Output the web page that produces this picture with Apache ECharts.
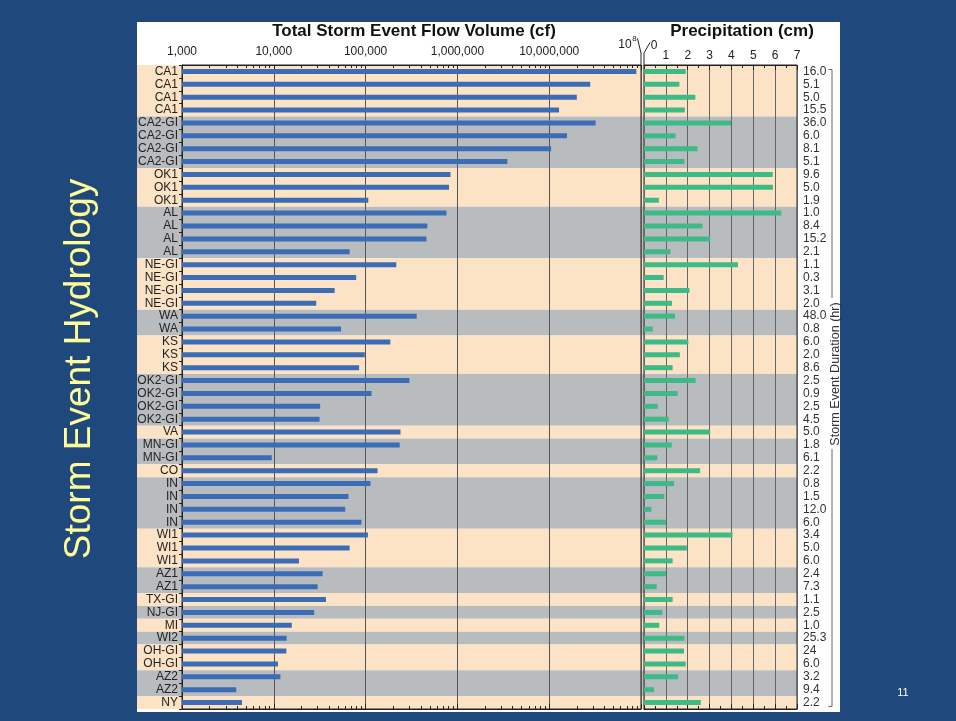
<!DOCTYPE html>
<html><head><meta charset="utf-8">
<script src="https://cdn.jsdelivr.net/npm/echarts@6/dist/echarts.min.js"></script>
<style>html,body{margin:0;padding:0;background:#1f497d}#c{width:956px;height:721px}</style>
</head><body><div id="c"></div>
<script>
// ---------- data ----------
const sites = ['CA1','CA1','CA1','CA1','CA2-GI','CA2-GI','CA2-GI','CA2-GI','OK1','OK1','OK1',
  'AL','AL','AL','AL','NE-GI','NE-GI','NE-GI','NE-GI','WA','WA','KS','KS','KS',
  'OK2-GI','OK2-GI','OK2-GI','OK2-GI','VA','MN-GI','MN-GI','CO','IN','IN','IN','IN',
  'WI1','WI1','WI1','AZ1','AZ1','TX-GI','NJ-GI','MI','WI2','OH-GI','OH-GI','AZ2','AZ2','NY'];
const flowVolume = [89000000,28000000,20000000,12800000,32000000,15600000,10500000,3500000,840000,810000,107000,
  760000,470000,460000,67000,216000,79000,46000,29000,360000,54000,186000,98000,85000,
  300000,116000,32000,31500,240000,235000,9500,135000,113000,65000,60000,90000,
  106000,67000,18800,34000,30000,37000,27500,15700,13800,13700,11100,11800,3900,4500];
const precipitation = [1.91,1.62,2.35,1.87,3.98,1.44,2.45,1.85,5.89,5.90,0.68,
  6.28,2.68,3.03,1.21,4.30,0.90,2.08,1.28,1.42,0.40,2.03,1.64,1.31,
  2.36,1.54,0.63,1.13,3.03,1.27,0.61,2.57,1.38,0.93,0.34,1.01,
  4.05,1.96,1.31,1.01,0.58,1.31,0.84,0.70,1.85,1.83,1.91,1.56,0.46,2.60];
const durations = ['16.0','5.1','5.0','15.5','36.0','6.0','8.1','5.1','9.6','5.0','1.9',
  '1.0','8.4','15.2','2.1','1.1','0.3','3.1','2.0','48.0','0.8','6.0','2.0','8.6',
  '2.5','0.9','2.5','4.5','5.0','1.8','6.1','2.2','0.8','1.5','12.0','6.0',
  '3.4','5.0','6.0','2.4','7.3','1.1','2.5','1.0','25.3','24','6.0','3.2','9.4','2.2'];
const flowRange = [1000, 100000000];
const precipRange = [0, 7];

// ---------- derived ----------
const bandPalette = ['#fde3c6', '#b9bcbf'];
// one band per site group: [x, firstRow, lastRow, colourIndex]
const siteGroups = [];
sites.forEach((s, i) => {
  if (i === 0 || s !== sites[i - 1]) {
    siteGroups.push([0, i, i, siteGroups.length % 2]);
  } else {
    siteGroups[siteGroups.length - 1][2] = i;
  }
});
const minorLog = [];
for (let d = 3; d < 8; d++) for (let k = 2; k <= 9; k++) minorLog.push(Math.log10(k) + d);

const FONT = "'Liberation Sans', Arial, sans-serif";
const TOP = 65, H = 644;
const L0 = 182, W0 = 459, L1 = 644, W1 = 153;
const ink = '#222';

const minorAxis = (pos) => ({
  gridIndex: 0, type: 'value', min: Math.log10(flowRange[0]), max: Math.log10(flowRange[1]), position: pos,
  axisLine: {show: false}, axisLabel: {show: false}, splitLine: {show: false},
  axisTick: {show: true, inside: true, length: 3, lineStyle: {color: ink}, customValues: minorLog}
});

const chart = echarts.init(document.getElementById('c'), null, {renderer: 'canvas'});
chart.setOption({
  backgroundColor: '#1f497d',
  animation: false,
  textStyle: {fontFamily: FONT},
  title: [
    {text: 'Total Storm Event Flow Volume (cf)', left: 414, top: 23, padding: 0, textAlign: 'center',
     textStyle: {fontSize: 17, fontWeight: 'bold', color: '#111', fontFamily: FONT}},
    {text: 'Precipitation (cm)', left: 742, top: 23, padding: 0, textAlign: 'center',
     textStyle: {fontSize: 17, fontWeight: 'bold', color: '#111', fontFamily: FONT}}
  ],
  grid: [
    {left: L0, top: TOP, width: W0, height: H, show: true, borderColor: ink, borderWidth: 1},
    {left: L1, top: TOP, width: W1, height: H, show: true, borderColor: ink, borderWidth: 1},
    {left: 137, top: TOP, width: 660, height: H}
  ],
  xAxis: [
    {gridIndex: 0, type: 'log', logBase: 10, min: flowRange[0], max: flowRange[1], startValue: flowRange[0], position: 'top',
     axisLine: {show: true, lineStyle: {color: ink}},
     axisTick: {show: true, inside: true, length: 5, lineStyle: {color: ink}},
     axisLabel: {margin: 7, color: ink, fontSize: 12, fontFamily: FONT,
       formatter: v => v >= flowRange[1] * 0.99 ? '' : Math.round(v).toLocaleString('en-US')},
     splitLine: {show: true, lineStyle: {color: '#555', width: 1}}},
    {gridIndex: 0, type: 'log', logBase: 10, min: flowRange[0], max: flowRange[1], startValue: flowRange[0], position: 'bottom',
     axisLine: {show: true, lineStyle: {color: ink}},
     axisTick: {show: true, inside: true, length: 5, lineStyle: {color: ink}},
     axisLabel: {show: false}, splitLine: {show: false}},
    minorAxis('top'),
    minorAxis('bottom'),
    {gridIndex: 1, type: 'value', min: precipRange[0], max: precipRange[1], interval: 1, position: 'top',
     axisLine: {show: true, lineStyle: {color: ink}},
     axisTick: {show: true, inside: true, length: 5, lineStyle: {color: ink}},
     minorTick: {show: true, splitNumber: 2, length: 3, lineStyle: {color: ink}},
     axisLabel: {margin: 3, color: ink, fontSize: 12, fontFamily: FONT, formatter: v => v === 0 ? '' : String(v)},
     splitLine: {show: true, lineStyle: {color: '#666', width: 1}}},
    {gridIndex: 1, type: 'value', min: precipRange[0], max: precipRange[1], interval: 1, position: 'bottom',
     axisLine: {show: true, lineStyle: {color: ink}},
     axisTick: {show: true, inside: true, length: 5, lineStyle: {color: ink}},
     minorTick: {show: true, splitNumber: 2, length: 3, lineStyle: {color: ink}},
     axisLabel: {show: false}, splitLine: {show: false}},
    {gridIndex: 2, type: 'value', min: 0, max: 1, show: false}
  ],
  yAxis: [
    {gridIndex: 0, type: 'category', inverse: true, data: sites,
     axisLine: {show: true, lineStyle: {color: ink}},
     axisTick: {show: true, length: 3, lineStyle: {color: ink}},
     axisLabel: {interval: 0, margin: 4, color: ink, fontSize: 12, fontFamily: FONT},
     splitLine: {show: false}},
    {gridIndex: 1, type: 'category', inverse: true, position: 'right', data: durations,
     axisLine: {show: false}, axisTick: {show: false},
     axisLabel: {interval: 0, margin: 6, color: '#333', fontSize: 12, fontFamily: FONT, align: 'left'},
     splitLine: {show: false}},
    {gridIndex: 2, type: 'category', inverse: true, data: sites, show: false}
  ],
  series: [
    {type: 'custom', name: 'band', xAxisIndex: 6, yAxisIndex: 2, z: -10, silent: true, clip: false,
     encode: {x: 0, y: 1},
     data: siteGroups,
     renderItem: (params, api) => {
       const p0 = api.coord([0, api.value(1)]);
       const p1 = api.coord([1, api.value(2)]);
       const h = api.size([0, 1])[1];
       return {type: 'rect',
         shape: {x: p0[0], y: p0[1] - h / 2, width: p1[0] - p0[0], height: p1[1] - p0[1] + h},
         style: {fill: bandPalette[api.value(3)]}};
     }},
    {type: 'bar', name: 'Total Storm Event Flow Volume (cf)', xAxisIndex: 0, yAxisIndex: 0,
     barWidth: 5, data: flowVolume, itemStyle: {color: '#3b6cb5'}},
    {type: 'bar', name: 'Precipitation (cm)', xAxisIndex: 4, yAxisIndex: 1,
     barWidth: 5, data: precipitation, itemStyle: {color: '#3dba86'}}
  ],
  graphic: [
    {type: 'rect', z: -100, silent: true, shape: {x: 137, y: 22, width: 703, height: 690}, style: {fill: '#ffffff'}},
    {type: 'text', x: 80, y: 369, rotation: Math.PI / 2, silent: true,
     style: {text: 'Storm Event Hydrology', fill: '#ffff99', fontSize: 37, fontFamily: FONT, align: 'center', verticalAlign: 'middle'}},
    {type: 'text', x: 903, y: 693, silent: true,
     style: {text: '11', fill: '#ffffff', fontSize: 11, fontFamily: FONT, align: 'center', verticalAlign: 'middle'}},
    {type: 'text', x: 625, y: 45, silent: true,
     style: {text: '10', fill: ink, fontSize: 12, fontFamily: FONT, align: 'center', verticalAlign: 'middle'}},
    {type: 'text', x: 634.5, y: 38.5, silent: true,
     style: {text: '8', fill: ink, fontSize: 8, fontFamily: FONT, align: 'center', verticalAlign: 'middle'}},
    {type: 'text', x: 654, y: 45.5, silent: true,
     style: {text: '0', fill: ink, fontSize: 12, fontFamily: FONT, align: 'center', verticalAlign: 'middle'}},
    {type: 'polyline', silent: true, shape: {points: [[637.5, 38.5], [641, 53], [641, 65]]}, style: {stroke: ink, lineWidth: 1, fill: null}},
    {type: 'polyline', silent: true, shape: {points: [[644, 65], [644, 53], [650, 42.5]]}, style: {stroke: ink, lineWidth: 1, fill: null}},
    {type: 'polyline', silent: true, shape: {points: [[828.5, 69.5], [832, 69.5], [832, 298]]}, style: {stroke: '#666', lineWidth: 1, fill: null}},
    {type: 'polyline', silent: true, shape: {points: [[832, 449], [832, 706.5], [828.5, 706.5]]}, style: {stroke: '#666', lineWidth: 1, fill: null}},
    {type: 'text', x: 836, y: 374, rotation: Math.PI / 2, silent: true,
     style: {text: 'Storm Event Duration (hr)', fill: '#333', fontSize: 12.6, fontFamily: FONT, align: 'center', verticalAlign: 'middle'}}
  ]
});
</script></body></html>
